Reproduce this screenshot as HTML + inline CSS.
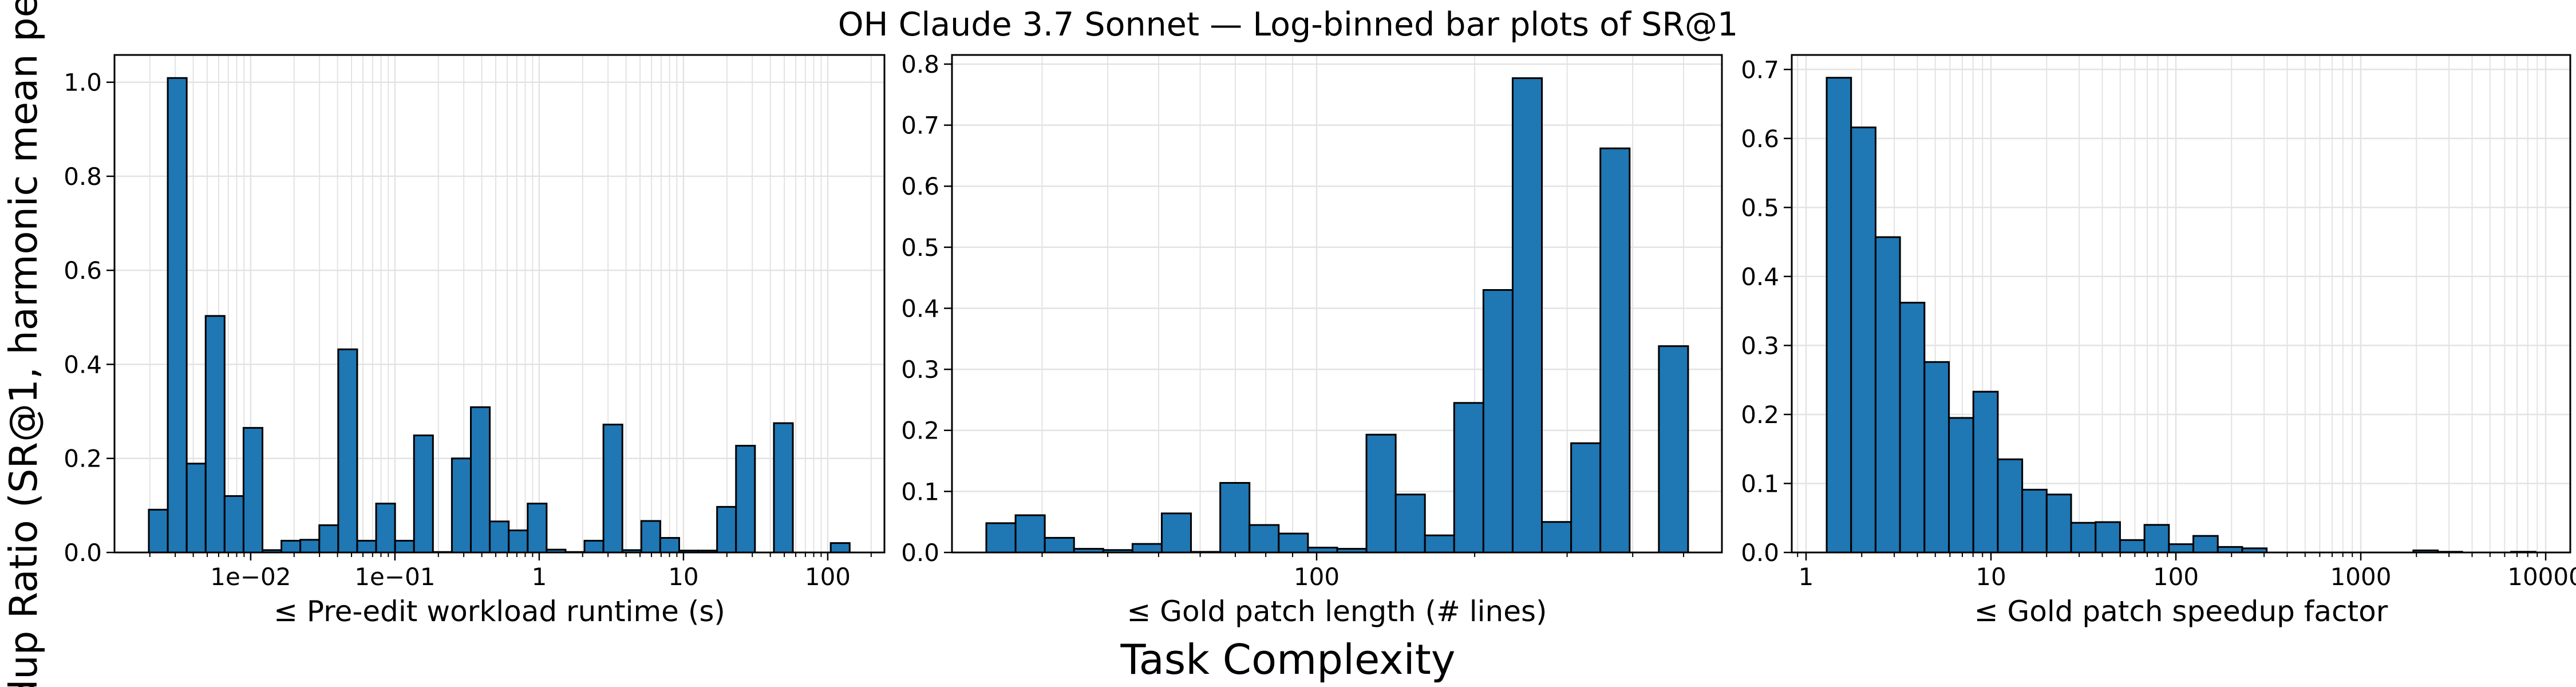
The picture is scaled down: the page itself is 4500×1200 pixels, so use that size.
<!DOCTYPE html>
<html><head><meta charset="utf-8"><style>
html,body{margin:0;padding:0;background:#fff;width:4500px;height:1200px;overflow:hidden;}
svg{display:block;font-family:"DejaVu Sans","Liberation Sans",sans-serif;}
</style></head><body>
<svg id="fig" width="4500" height="1200" viewBox="0 0 4500 1200" xmlns="http://www.w3.org/2000/svg">
<rect width="4500" height="1200" fill="#fff"/>
<text x="2250" y="62" font-size="57" text-anchor="middle">OH Claude 3.7 Sonnet — Log-binned bar plots of SR@1</text>
<text transform="translate(64,585) rotate(-90)" font-size="67" text-anchor="middle">Speedup Ratio (SR@1, harmonic mean per task)</text>
<text x="2250" y="1177" font-size="72" text-anchor="middle">Task Complexity</text>
</svg>
<script>
// Panel 1: Pre-edit workload runtime
const p1BinStartLog = -2.706;
const p1BinWidthLog = 0.1313;
const p1Values = [0.091,1.009,0.189,0.503,0.12,0.265,0.005,0.025,0.027,0.058,0.432,0.025,0.104,0.025,0.249,0.001,0.2,0.309,0.066,0.047,0.104,0.006,0.001,0.025,0.272,0.005,0.067,0.031,0.004,0.004,0.097,0.227,0,0.275,0,0,0.02];
const p1YTicks = [0,0.2,0.4,0.6,0.8,1.0];
const p1YLabels = ["0.0","0.2","0.4","0.6","0.8","1.0"];
const p1XTicks = [-2,-1,0,1,2];
const p1XLabels = ["1e\u221202","1e\u221201","1","10","100"];
// Panel 2: Gold patch length
const p2BinStartLog = 1.3708;
const p2BinWidthLog = 0.0557;
const p2Values = [0.048,0.061,0.024,0.006,0.004,0.014,0.064,0.001,0.114,0.045,0.031,0.008,0.006,0.193,0.095,0.028,0.245,0.43,0.777,0.05,0.179,0.662,0,0.338];
const p2YTicks = [0,0.1,0.2,0.3,0.4,0.5,0.6,0.7,0.8];
const p2YLabels = ["0.0","0.1","0.2","0.3","0.4","0.5","0.6","0.7","0.8"];
const p2XTicks = [2];
const p2XLabels = ["100"];
// Panel 3: Gold patch speedup factor
const p3BinStartLog = 0.1115;
const p3BinWidthLog = 0.1322;
const p3Values = [0.688,0.616,0.457,0.362,0.276,0.195,0.233,0.135,0.091,0.084,0.043,0.044,0.018,0.040,0.012,0.024,0.008,0.006,0,0,0,0,0,0,0.003,0.001,0,0,0.001];
const p3YTicks = [0,0.1,0.2,0.3,0.4,0.5,0.6,0.7];
const p3YLabels = ["0.0","0.1","0.2","0.3","0.4","0.5","0.6","0.7"];
const p3XTicks = [0,1,2,3,4];
const p3XLabels = ["1","10","100","1000","10000"];

const NS="http://www.w3.org/2000/svg";
const svg=document.getElementById('fig');
function mk(tag,attrs,parent){const e=document.createElementNS(NS,tag);for(const k in attrs)e.setAttribute(k,attrs[k]);(parent||svg).appendChild(e);return e;}

function panel(cfg){
  const g=mk('g',{});
  
  
  const L=cfg.left,R=cfg.right,T=96,B=965;
  const xs=v=>L+(v-cfg.xmin)/(cfg.xmax-cfg.xmin)*(R-L);
  const ys=v=>B-v/cfg.ymax*(B-T);
  for(let d=Math.floor(cfg.xmin);d<=Math.ceil(cfg.xmax);d++){
    for(let m=1;m<=9;m++){
      const lv=d+Math.log10(m);
      if(lv<cfg.xmin||lv>cfg.xmax)continue;
      const x=xs(lv);
      const gl=mk('line',{x1:x,x2:x,y1:T,y2:B,stroke:'#e3e3e3','stroke-width':m===1?2.5:2},g);
      
      
      const tk=mk('line',{x1:x,x2:x,y1:B,y2:B+(m===1?14:8),stroke:'#000','stroke-width':m===1?2.5:2},g);
      
      
    }
  }
  cfg.yTicks.forEach((v,i)=>{
    const y=ys(v);
    const gl=mk('line',{x1:L,x2:R,y1:y,y2:y,stroke:'#e3e3e3','stroke-width':2.5},g);
    
    
    const tk=mk('line',{x1:L-14,x2:L,y1:y,y2:y,stroke:'#000','stroke-width':2.5},g);
    
    
    const t=mk('text',{x:L-22,y:y+15,'font-size':42,'text-anchor':'end'},g);
    t.textContent=cfg.yLabels[i];
    
    
  });
  cfg.values.forEach((v,i)=>{
    if(v<=0)return;
    const x0=xs(cfg.binStart+i*cfg.binWidth), x1=xs(cfg.binStart+(i+1)*cfg.binWidth);
    const r=mk('rect',{x:x0,y:ys(v),width:x1-x0,height:B-ys(v),fill:'#1f77b4',stroke:'#000','stroke-width':3},g);
    
    
  });
  cfg.xTicks.forEach((v,i)=>{
    const t=mk('text',{x:xs(v),y:1022,'font-size':42,'text-anchor':'middle'},g);
    t.textContent=cfg.xLabels[i];
    
    
  });
  const fr=mk('rect',{x:L,y:T,width:R-L,height:B-T,fill:'none',stroke:'#000','stroke-width':3},g);
  
  
  const xl=mk('text',{x:(L+R)/2,y:1085,'font-size':50,'text-anchor':'middle'},g);
  xl.textContent=cfg.xTitle;
  
  
}
panel({name:'runtime-panel',left:200,right:1545,xmin:-2.944,xmax:2.393,ymax:1.058,
  binStart:p1BinStartLog,binWidth:p1BinWidthLog,values:p1Values,yTicks:p1YTicks,yLabels:p1YLabels,
  xTicks:p1XTicks,xLabels:p1XLabels,xTitle:'\u2264 Pre-edit workload runtime (s)'});
panel({name:'patch-length-panel',left:1663,right:3008,xmin:1.3054,xmax:2.772,ymax:0.815,
  binStart:p2BinStartLog,binWidth:p2BinWidthLog,values:p2Values,yTicks:p2YTicks,yLabels:p2YLabels,
  xTicks:p2XTicks,xLabels:p2XLabels,xTitle:'\u2264 Gold patch length (# lines)'});
panel({name:'speedup-factor-panel',left:3130,right:4490,xmin:-0.0774,xmax:4.133,ymax:0.721,
  binStart:p3BinStartLog,binWidth:p3BinWidthLog,values:p3Values,yTicks:p3YTicks,yLabels:p3YLabels,
  xTicks:p3XTicks,xLabels:p3XLabels,xTitle:'\u2264 Gold patch speedup factor'});
</script>
</body></html>
